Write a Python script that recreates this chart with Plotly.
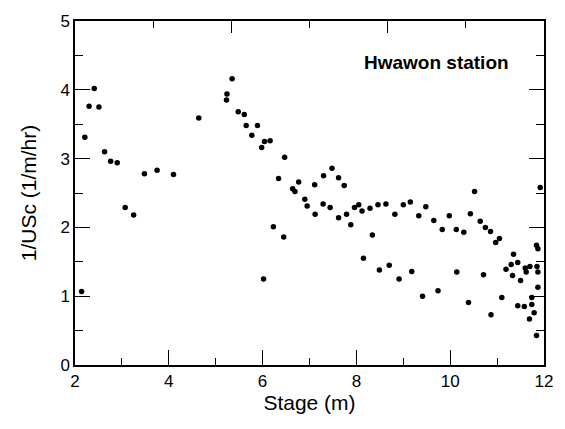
import plotly.graph_objects as go

# Stage (m) and inverse critical velocity 1/USc (1/m/hr) at Hwawon station
stage = [
    2.14, 2.21, 2.30, 2.41, 2.51, 2.63, 2.76, 2.90, 3.07, 3.25,
    3.48, 3.75, 4.10, 4.64, 5.23, 5.24, 5.35, 5.48, 5.61, 5.65,
    5.77, 5.89, 5.98, 6.04, 6.16, 6.02, 6.23, 6.34, 6.45, 6.47,
    6.64, 6.69, 6.77, 6.90, 6.95, 7.11, 7.12, 7.29, 7.30, 7.44,
    7.48, 7.62, 7.62, 7.74, 7.79, 7.88, 7.96, 8.05, 8.12, 8.15,
    8.29, 8.34, 8.46, 8.49, 8.63, 8.70, 8.82, 8.91, 9.00, 9.15,
    9.18, 9.33, 9.41, 9.48, 9.65, 9.74, 9.83, 9.98, 10.13, 10.14,
    10.29, 10.39, 10.43, 10.52, 10.64, 10.71, 10.75, 10.86, 10.87, 10.97,
    11.05, 11.10, 11.19, 11.30, 11.33, 11.35, 11.44, 11.44, 11.50, 11.58,
    11.60, 11.62, 11.69, 11.70, 11.74, 11.74, 11.79, 11.84, 11.84, 11.85,
    11.87, 11.87, 11.87, 11.92,
]
inv_usc = [
    1.07, 3.31, 3.76, 4.02, 3.75, 3.10, 2.96, 2.94, 2.29, 2.18,
    2.78, 2.83, 2.77, 3.59, 3.85, 3.94, 4.16, 3.68, 3.64, 3.48,
    3.34, 3.48, 3.16, 3.25, 3.26, 1.25, 2.01, 2.71, 1.86, 3.02,
    2.56, 2.52, 2.66, 2.41, 2.31, 2.62, 2.19, 2.34, 2.75, 2.29,
    2.86, 2.72, 2.14, 2.61, 2.19, 2.04, 2.29, 2.33, 2.24, 1.55,
    2.28, 1.89, 2.33, 1.38, 2.34, 1.45, 2.19, 1.25, 2.33, 2.37,
    1.36, 2.17, 1.00, 2.30, 2.10, 1.08, 1.97, 2.17, 1.97, 1.35,
    1.93, 0.91, 2.20, 2.52, 2.09, 1.31, 2.00, 1.94, 0.73, 1.78,
    1.84, 0.98, 1.39, 1.46, 1.30, 1.61, 1.49, 0.86, 1.23, 0.85,
    1.41, 1.35, 0.67, 1.43, 0.98, 0.88, 0.76, 0.43, 1.74, 1.43,
    1.69, 1.35, 1.13, 2.58,
]

x_ticks = [2, 4, 6, 8, 10, 12]
y_ticks = [0, 1, 2, 3, 4, 5]

FONT = "Liberation Sans, Arial, sans-serif"
LINE = dict(showline=True, linecolor="black", linewidth=1.5, showgrid=False,
            zeroline=False, ticks="inside", tickcolor="black", tickwidth=1.3)

fig = go.Figure()
fig.add_trace(go.Scatter(
    x=stage, y=inv_usc, mode="markers",
    marker=dict(color="black", size=5.5, line=dict(width=0)),
    showlegend=False,
))
# invisible trace so the mirrored top/right axes are laid out
fig.add_trace(go.Scatter(x=[0], y=[0], xaxis="x2", yaxis="y2", mode="markers",
                         marker=dict(opacity=0), showlegend=False, hoverinfo="skip"))

fig.update_layout(
    width=565, height=429,
    margin=dict(l=75, r=17, t=13, b=64),
    paper_bgcolor="white", plot_bgcolor="white",
    font=dict(family=FONT, color="black", size=16),
    xaxis=dict(range=[2, 12], tickvals=x_ticks, ticklen=15,
               minor=dict(dtick=1, ticklen=7, ticks="inside", tickcolor="black", tickwidth=1.2),
               title=dict(text="Stage (m)", font=dict(size=21), standoff=4),
               tickfont=dict(size=17), **LINE),
    yaxis=dict(range=[0, 5], tickvals=y_ticks, ticklen=15,
               minor=dict(dtick=0.5, ticklen=8, ticks="inside", tickcolor="black", tickwidth=1.2),
               title=dict(text="1/USc (1/m/hr)", font=dict(size=21), standoff=18),
               tickfont=dict(size=17), **LINE),
    xaxis2=dict(overlaying="x", side="top", range=[0, 6], tickvals=[2, 4], ticklen=12,
                showticklabels=False,
                minor=dict(tickvals=[1, 3, 5], ticklen=7, ticks="inside", tickcolor="black", tickwidth=1.2),
                **LINE),
    yaxis2=dict(overlaying="y", side="right", range=[0, 5], tickvals=y_ticks, ticklen=15,
                showticklabels=False,
                minor=dict(dtick=0.5, ticklen=8, ticks="inside", tickcolor="black", tickwidth=1.2),
                **LINE),
    annotations=[dict(text="<b>Hwawon station</b>", xref="paper", yref="paper",
                      x=0.93, y=0.88, xanchor="right", yanchor="middle",
                      showarrow=False, font=dict(size=19, family=FONT))],
)

fig.write_html("out.html")
